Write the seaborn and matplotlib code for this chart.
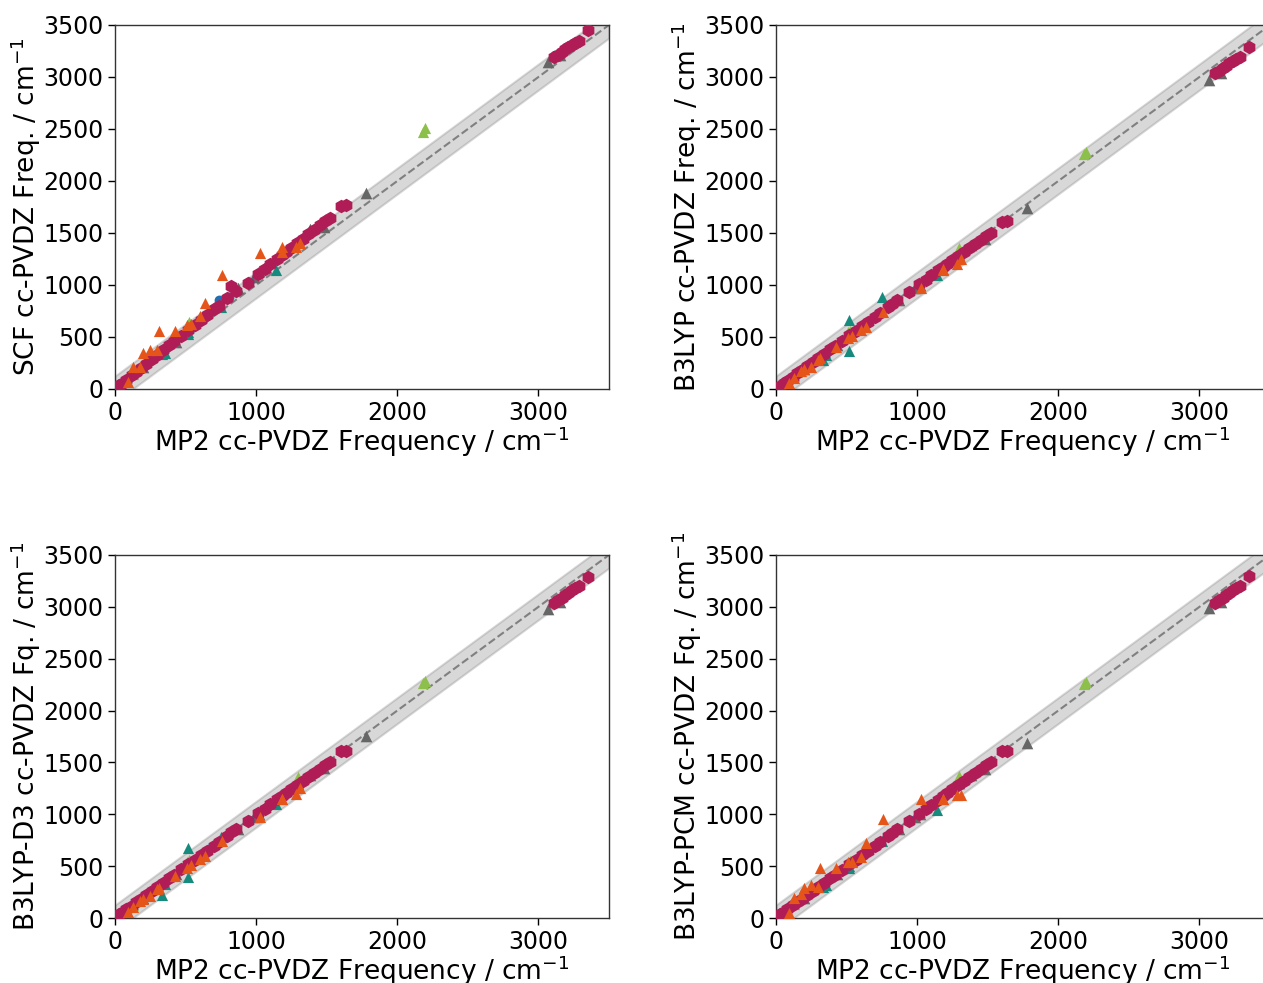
import matplotlib
matplotlib.use("Agg")
import matplotlib.pyplot as plt
import seaborn as sns
import pandas as pd

# MP2 cc-PVDZ reference frequencies (cm^-1) per species, and the frequencies
# from each of the four other methods for the same modes.

# species A (crimson hexagons)
a_mp2 = [30, 55, 80, 120, 150, 185, 220, 260, 300, 340, 385, 420, 470, 520, 565,
         610, 650, 700, 735, 790, 820, 860, 940, 1010, 1060, 1100, 1150, 1185, 1215,
         1250, 1290, 1330, 1370, 1410, 1450, 1490, 1520, 1600, 1635, 3110, 3140,
         3165, 3190, 3210, 3235, 3260, 3285, 3350]
a_scf = [35, 62, 90, 132, 165, 203, 240, 284, 328, 372, 420, 458, 513, 568, 618,
         668, 712, 770, 800, 872, 990, 945, 1016, 1102, 1158, 1200, 1253, 1290, 1322,
         1360, 1402, 1445, 1488, 1530, 1573, 1615, 1648, 1755, 1770, 3190, 3215,
         3240, 3265, 3285, 3305, 3330, 3345, 3455]
a_b3lyp = [32, 56, 80, 118, 150, 183, 218, 258, 297, 336, 380, 416, 465, 515, 560,
           605, 645, 695, 728, 785, 822, 858, 935, 1005, 1052, 1092, 1140, 1175, 1205,
           1238, 1278, 1318, 1356, 1395, 1435, 1472, 1500, 1605, 1612, 3035, 3060,
           3085, 3110, 3130, 3155, 3175, 3195, 3290]
a_d3 = [34, 58, 82, 120, 152, 186, 220, 260, 300, 338, 382, 418, 468, 518, 562,
        608, 648, 698, 730, 788, 825, 860, 938, 1008, 1055, 1095, 1143, 1178, 1208,
        1242, 1282, 1322, 1360, 1398, 1438, 1475, 1503, 1607, 1615, 3040, 3065,
        3090, 3112, 3132, 3158, 3178, 3198, 3288]
a_pcm = [38, 60, 84, 122, 150, 184, 219, 259, 298, 337, 381, 417, 466, 516, 561,
         606, 646, 696, 729, 786, 823, 859, 936, 1006, 1053, 1093, 1141, 1176, 1206,
         1240, 1280, 1320, 1358, 1396, 1436, 1473, 1501, 1606, 1613, 3038, 3062,
         3088, 3112, 3133, 3158, 3178, 3200, 3300]

# species B (blue circles)
b_mp2 = [40, 90, 140, 190, 250, 300, 360, 410, 480, 530, 620, 690, 735, 810, 950,
         1080, 1140, 1250, 1330, 1460, 3120, 3180, 3230]
b_scf = [45, 100, 152, 206, 272, 326, 390, 446, 520, 575, 672, 748, 856, 880, 1030,
         1170, 1236, 1355, 1442, 1580, 3210, 3262, 3310]
b_b3lyp = [42, 92, 142, 188, 248, 298, 356, 405, 475, 526, 615, 684, 728, 802, 944,
           1072, 1130, 1240, 1318, 1445, 3045, 3100, 3150]
b_d3 = [44, 93, 143, 190, 250, 300, 358, 407, 478, 528, 618, 686, 730, 805, 946,
        1075, 1133, 1243, 1320, 1448, 3050, 3104, 3152]
b_pcm = [50, 94, 142, 189, 249, 299, 357, 406, 476, 527, 616, 685, 729, 803, 945,
         1073, 1131, 1241, 1319, 1446, 3048, 3102, 3152]

# species C (grey triangles)
c_mp2 = [25, 200, 430, 870, 985, 1020, 1300, 1385, 1480, 1780, 3065, 3150]
c_scf = [30, 215, 452, 968, 1074, 1138, 1426, 1536, 1561, 1888, 3140, 3215]
c_b3lyp = [25, 195, 425, 856, 970, 1000, 1290, 1380, 1440, 1745, 2975, 3040]
c_d3 = [28, 196, 427, 858, 972, 1002, 1292, 1382, 1442, 1755, 2980, 3045]
c_pcm = [30, 197, 426, 857, 971, 1001, 1300, 1381, 1441, 1690, 2985, 3050]

# species D (green triangles)
d_mp2 = [130, 510, 525, 1300, 2180, 2195]
d_scf = [140, 600, 640, 1420, 2475, 2510]
d_b3lyp = [125, 545, 560, 1360, 2260, 2280]
d_d3 = [128, 540, 555, 1355, 2262, 2282]
d_pcm = [135, 530, 545, 1365, 2255, 2275]

# species E (teal triangles)
e_mp2 = [330, 355, 515, 520, 750, 1140]
e_scf = [340, 349, 528, 545, 790, 1145]
e_b3lyp = [279, 330, 365, 660, 885, 1100]
e_d3 = [225, 330, 400, 672, 784, 1095]
e_pcm = [300, 318, 482, 505, 745, 1041]

# species F (orange triangles)
f_mp2 = [95, 125, 180, 200, 245, 300, 315, 425, 510, 535, 600, 635, 760, 1030,
         1180, 1185, 1280, 1310]
f_scf = [70, 215, 215, 343, 375, 375, 555, 555, 615, 625, 700, 824, 1095, 1310,
         1368, 1320, 1368, 1400]
f_b3lyp = [60, 110, 170, 190, 215, 280, 295, 407, 487, 510, 567, 600, 743, 968,
           1144, 1150, 1202, 1247]
f_d3 = [62, 108, 168, 188, 212, 278, 290, 405, 485, 508, 565, 598, 745, 971,
        1145, 1148, 1200, 1250]
f_pcm = [48, 193, 230, 289, 318, 300, 479, 479, 543, 543, 591, 726, 952, 1145,
         1145, 1150, 1186, 1186]

methods = ["scf", "b3lyp", "d3", "pcm"]
y_labels = [r"SCF cc-PVDZ Freq. / cm$^{-1}$",
            r"B3LYP cc-PVDZ Freq. / cm$^{-1}$",
            r"B3LYP-D3 cc-PVDZ Fq. / cm$^{-1}$",
            r"B3LYP-PCM cc-PVDZ Fq. / cm$^{-1}$"]
x_label = r"MP2 cc-PVDZ Frequency / cm$^{-1}$"

freq_range = [0, 3500]
tolerance = 125  # half-width of the shaded agreement band

# draw order: lower entries are painted on top
species = [
    ("E", e_mp2, dict(scf=e_scf, b3lyp=e_b3lyp, d3=e_d3, pcm=e_pcm), "#178a7e", "^", 65),
    ("D", d_mp2, dict(scf=d_scf, b3lyp=d_b3lyp, d3=d_d3, pcm=d_pcm), "#8dbf4b", "^", 65),
    ("C", c_mp2, dict(scf=c_scf, b3lyp=c_b3lyp, d3=c_d3, pcm=c_pcm), "#666666", "^", 70),
    ("B", b_mp2, dict(scf=b_scf, b3lyp=b_b3lyp, d3=b_d3, pcm=b_pcm), "#1f6fb2", "o", 50),
    ("A", a_mp2, dict(scf=a_scf, b3lyp=a_b3lyp, d3=a_d3, pcm=a_pcm), "#b01c55", "h", 95),
    ("F", f_mp2, dict(scf=f_scf, b3lyp=f_b3lyp, d3=f_d3, pcm=f_pcm), "#e5551a", "^", 65),
]

sns.set_style("ticks")
plt.rcParams["font.family"] = ["DejaVu Sans"]
plt.rcParams["axes.edgecolor"] = "#333333"

W, H = 1263, 983
fig = plt.figure(figsize=(W / 100, H / 100), dpi=100)

# axes boxes in pixels: (left, bottom-edge-from-top, width, height)
boxes = [(115, 389, 494, 364), (776, 389, 494, 364),
         (115, 918, 494, 363), (776, 918, 494, 363)]

for method, ylab, (l, b, w, h) in zip(methods, y_labels, boxes):
    ax = fig.add_axes([l / W, (H - b) / H, w / W, h / H])
    ax.fill_between(freq_range, [v - tolerance for v in freq_range],
                    [v + tolerance for v in freq_range],
                    color="gray", alpha=0.3, linewidth=1.5, zorder=1)
    ax.plot(freq_range, freq_range, "--", color="gray", lw=1.5, zorder=2)
    for name, xs, ys, col, mk, size in species:
        df = pd.DataFrame({"mp2": xs, "calc": ys[method]})
        sns.scatterplot(data=df, x="mp2", y="calc", ax=ax, color=col, marker=mk,
                        s=size, linewidth=0, zorder=3)
    ax.set_xlim(freq_range)
    ax.set_ylim(freq_range)
    ax.set_xticks([0, 1000, 2000, 3000])
    ax.set_yticks(range(0, 3501, 500))
    ax.tick_params(labelsize=17, length=5, width=1, colors="black")
    ax.set_xlabel(x_label, fontsize=19, labelpad=0, color="black")
    ax.set_ylabel(ylab, fontsize=19, labelpad=0, color="black")
    for sp in ax.spines.values():
        sp.set_visible(True)
        sp.set_linewidth(1.0)

fig.savefig("out.png", dpi=100)
